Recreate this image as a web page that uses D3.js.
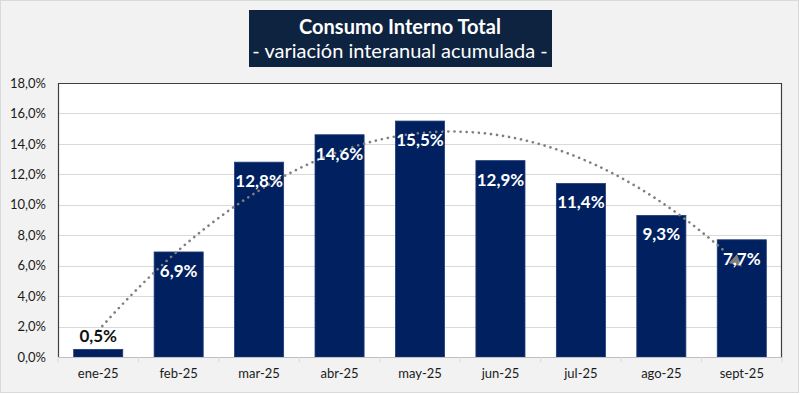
<!DOCTYPE html>
<html>
<head>
<meta charset="utf-8">
<script src="https://cdn.jsdelivr.net/npm/d3@7"></script>
<style>
  body { margin: 0; background: #fff; }
  text { font-family: Lato, "Open Sans", sans-serif; }
</style>
</head>
<body>
<script>
// data
var months = ["ene-25", "feb-25", "mar-25", "abr-25", "may-25", "jun-25", "jul-25", "ago-25", "sept-25"];
var values = [0.5, 6.9, 12.8, 14.6, 15.5, 12.9, 11.4, 9.3, 7.7];
var yTicks = [0, 2, 4, 6, 8, 10, 12, 14, 16, 18];

var W = 800, H = 395;
var plot = { left: 58, top: 83, right: 782, bottom: 357 };

var es = d3.formatLocale({ decimal: ",", thousands: ".", grouping: [3], currency: ["", "€"] });
var pct = function (v) { return es.format(".1f")(v) + "%"; };

var svg = d3.select("body").append("svg")
    .attr("width", W)
    .attr("height", H);

// background frame
svg.append("rect")
    .attr("x", 0.5).attr("y", 0.5)
    .attr("width", W - 2).attr("height", H - 3)
    .attr("fill", "#f2f2f2")
    .attr("stroke", "#d9d9d9");

// title box
svg.append("rect")
    .attr("x", 249).attr("y", 10)
    .attr("width", 303).attr("height", 57)
    .attr("fill", "#0e2340");
svg.append("text")
    .attr("x", 400).attr("y", 34)
    .attr("text-anchor", "middle")
    .attr("fill", "#fff")
    .attr("font-size", 20)
    .attr("font-weight", "bold")
    .text("Consumo Interno Total");
svg.append("text")
    .attr("x", 400).attr("y", 58)
    .attr("text-anchor", "middle")
    .attr("fill", "#fff")
    .attr("font-size", 20)
    .text("- variación interanual acumulada -");

var x = d3.scaleBand()
    .domain(months)
    .range([plot.left, plot.right])
    .paddingInner(0.39)
    .paddingOuter(0.195);

var y = d3.scaleLinear()
    .domain([0, 18])
    .range([plot.bottom, plot.top]);

// plot area
svg.append("rect")
    .attr("x", plot.left).attr("y", plot.top)
    .attr("width", plot.right - plot.left)
    .attr("height", plot.bottom - plot.top)
    .attr("fill", "#fff");

// gridlines
svg.append("g")
    .selectAll("line")
    .data(yTicks.slice(1, -1))
    .enter()
    .append("line")
    .attr("x1", plot.left).attr("x2", plot.right)
    .attr("y1", function (d) { return Math.round(y(d)) + 0.5; })
    .attr("y2", function (d) { return Math.round(y(d)) + 0.5; })
    .attr("stroke", "#d9d9d9");

// y axis labels
var yAxis = d3.axisLeft(y)
    .tickValues(yTicks)
    .tickSize(0)
    .tickPadding(12)
    .tickFormat(pct);
var gy = svg.append("g")
    .attr("transform", "translate(" + plot.left + ",0)")
    .call(yAxis);
gy.select(".domain").remove();
gy.selectAll("text")
    .attr("font-family", "Lato, 'Open Sans', sans-serif")
    .attr("font-size", 13)
    .attr("fill", "#1a1a1a");

// bars
svg.append("g")
    .selectAll("rect")
    .data(values)
    .enter()
    .append("rect")
    .attr("x", function (d, i) { return x(months[i]); })
    .attr("y", function (d) { return y(d); })
    .attr("width", x.bandwidth())
    .attr("height", function (d) { return y(0) - y(d); })
    .attr("fill", "#002060")
    .attr("stroke", "#1f3a78")
    .attr("stroke-width", 0.8);

// x axis
var xAxis = d3.axisBottom(x).tickSize(0).tickPadding(12);
var gx = svg.append("g")
    .attr("transform", "translate(0," + plot.bottom + ")")
    .call(xAxis);
gx.select(".domain").attr("stroke", "#bfbfbf");
gx.selectAll("text")
    .attr("font-family", "Lato, 'Open Sans', sans-serif")
    .attr("font-size", 13)
    .attr("fill", "#1a1a1a");
var step = x.step();
gx.selectAll(".sep")
    .data(d3.range(months.length + 1))
    .enter()
    .append("line")
    .attr("x1", function (i) { return plot.left + i * (plot.right - plot.left) / months.length; })
    .attr("x2", function (i) { return plot.left + i * (plot.right - plot.left) / months.length; })
    .attr("y1", 0).attr("y2", 5)
    .attr("stroke", "#d9d9d9");

// plot border (left, top, right)
svg.append("path")
    .attr("d", "M" + (plot.left + 0.5) + "," + plot.bottom +
        "V" + (plot.top + 0.5) + "H" + (plot.right - 0.5) + "V" + plot.bottom)
    .attr("fill", "none")
    .attr("stroke", "#404040")
    .attr("stroke-width", 1.2);

// polynomial (order 2) trendline, least squares on the series
var n = values.length;
var xs = d3.range(1, n + 1);
var s = [0, 0, 0, 0, 0], t = [0, 0, 0];
xs.forEach(function (xi, i) {
    for (var k = 0; k < 5; k++) s[k] += Math.pow(xi, k);
    for (var k = 0; k < 3; k++) t[k] += Math.pow(xi, k) * values[i];
});
function solve3(A, b) {
    var M = A.map(function (r, i) { return r.concat([b[i]]); });
    for (var c = 0; c < 3; c++) {
        for (var r = c + 1; r < 3; r++) {
            var f = M[r][c] / M[c][c];
            for (var k = c; k < 4; k++) M[r][k] -= f * M[c][k];
        }
    }
    var res = [0, 0, 0];
    for (var r = 2; r >= 0; r--) {
        var v = M[r][3];
        for (var k = r + 1; k < 3; k++) v -= M[r][k] * res[k];
        res[r] = v / M[r][r];
    }
    return res;
}
var coef = solve3([[s[0], s[1], s[2]], [s[1], s[2], s[3]], [s[2], s[3], s[4]]], t);
function trend(v) { return coef[0] + coef[1] * v + coef[2] * v * v; }
function px(v) { return x(months[0]) + x.bandwidth() / 2 + (v - 1) * step; }

var pts = d3.range(1, n + 0.001, 0.05).map(function (v) { return [px(v), y(trend(v))]; });
var endPt = pts[pts.length - 1];
var prev = pts[pts.length - 4];
var ang = Math.atan2(endPt[1] - prev[1], endPt[0] - prev[0]);
// stop the line a bit before the arrow head
var lineEnd = d3.range(1, n - 0.15, 0.05).map(function (v) { return [px(v), y(trend(v))]; });

svg.append("path")
    .datum(lineEnd)
    .attr("d", d3.line().curve(d3.curveLinear))
    .attr("fill", "none")
    .attr("stroke", "#7f7f7f")
    .attr("stroke-width", 2.6)
    .attr("stroke-linecap", "round")
    .attr("stroke-dasharray", "0.1 6");

svg.append("path")
    .attr("d", "M0,0 L-12,-6 L-12,6 Z")
    .attr("fill", "#7f7f7f")
    .attr("transform", "translate(" + endPt[0] + "," + endPt[1] + ") rotate(" + (ang * 180 / Math.PI) + ")");

// data labels
svg.append("g")
    .selectAll("text")
    .data(values)
    .enter()
    .append("text")
    .attr("x", function (d, i) { return x(months[i]) + x.bandwidth() / 2; })
    .attr("y", function (d) { return d < 2 ? y(d) - 7 : y(d) + 25; })
    .attr("text-anchor", "middle")
    .attr("font-size", 17)
    .attr("font-weight", "bold")
    .attr("fill", function (d) { return d < 2 ? "#111" : "#fff"; })
    .text(function (d) { return pct(d); });
</script>
</body>
</html>
